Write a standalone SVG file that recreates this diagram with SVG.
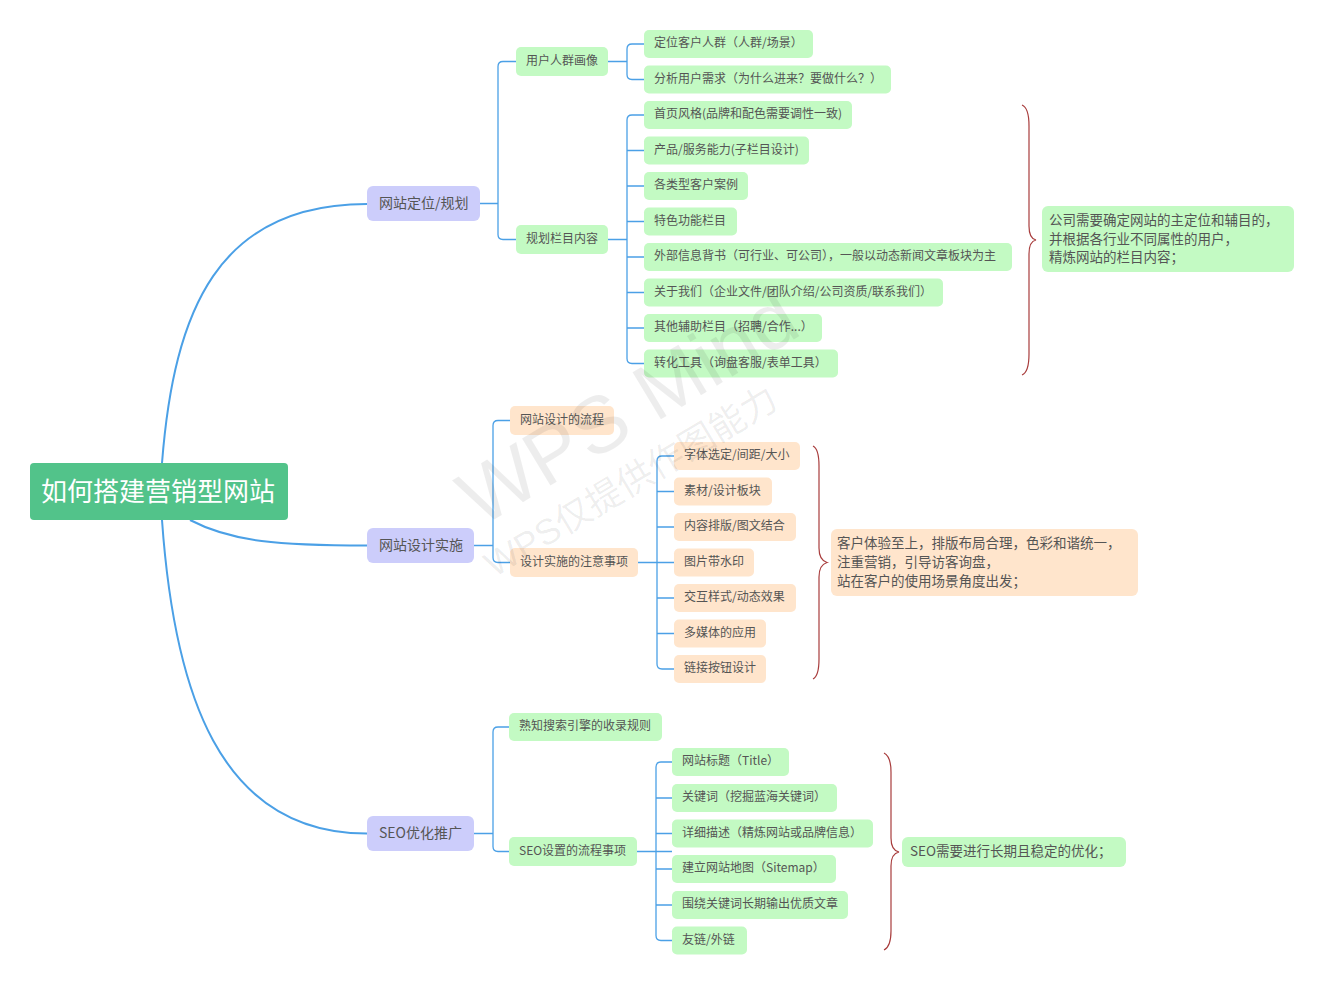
<svg xmlns="http://www.w3.org/2000/svg" width="1324" height="984" viewBox="0 0 1324 984">
<style>
text{font-family:"Noto Sans CJK SC","Noto Sans",sans-serif;fill:#555}
.root rect{fill:#52c38a}
.root text{fill:#fff;font-size:26px}
.l1 rect{fill:#cccdfb}
.l1 text{font-size:14px}
.g rect{fill:#c3fac3}
.o rect{fill:#ffe5cc}
.s text{font-size:12px}
.n text{font-size:13.5px}
.conn path{fill:none;stroke:#4ba0e6;stroke-width:1.3}
.conn path.main{stroke-width:2}
.brace path{fill:none;stroke:#a83c3c;stroke-width:1.2}
.wm{fill:#000;fill-opacity:0.07;font-family:"Liberation Sans","Noto Sans CJK SC",sans-serif}
</style>
<rect width="1324" height="984" fill="#fff"/>
<g id="connectors" class="conn">
<path class="main" d="M162,463 C174,310 218,204 367,204"/>
<path class="main" d="M190,520 C232,542 280,545.5 367,545.5"/>
<path class="main" d="M162,520 C174,690 218,833.5 367,833.5"/>
<path d="M480,203.5 H498 M516,61.5 H503 Q498,61.5 498,66.5 V234.5 Q498,239.5 503,239.5 H516"/>
<path d="M608,61.5 H627 M644,44 H632 Q627,44 627,49 V74.5 Q627,79.5 632,79.5 H644"/>
<path d="M608,239.5 H627 M644,115 H632 Q627,115 627,120 V358.5 Q627,363.5 632,363.5 H644 M627,150.5 H644 M627,186 H644 M627,221.5 H644 M627,257 H644 M627,292.5 H644 M627,328 H644"/>
<path d="M474,545.5 H493 M510,420.5 H498 Q493,420.5 493,425.5 V557.5 Q493,562.5 498,562.5 H510"/>
<path d="M638,562.5 H674 M674,456 H662 Q657,456 657,461 V664 Q657,669 662,669 H674 M657,491.5 H674 M657,527 H674 M657,598 H674 M657,633.5 H674"/>
<path d="M474,833.5 H493 M509,727 H498 Q493,727 493,732 V846.5 Q493,851.5 498,851.5 H509"/>
<path d="M637,851.5 H672 M672,762 H661 Q656,762 656,767 V935.5 Q656,940.5 661,940.5 H672 M656,798 H672 M656,833.5 H672 M656,869 H672 M656,905 H672"/>
</g>
<g id="braces" class="brace">
<path d="M1022,105 C1027,107 1029,114 1029,126 L1029,226 C1029,235 1031,239 1036,240 C1031,241 1029,245 1029,254 L1029,354 C1029,366 1027,373 1022,375"/>
<path d="M813,446 C817,448 819,455 819,466 L819,548 C819,557 822,561 827,562.5 C822,564 819,568 819,577 L819,659 C819,670 817,677 813,679"/>
<path d="M884,753 C888,755 891,762 891,772 L891,838 C891,847 894,851 899,852 C894,853 891,857 891,866 L891,931 C891,941 888,948 884,950"/>
</g>
<g id="root" class="root"><rect x="30" y="463" width="258" height="57" rx="4"/><text x="41" y="501">如何搭建营销型网站</text></g>
<g id="n1" class="l1"><rect x="367" y="186" width="113" height="35" rx="6"/><text x="379" y="208">网站定位/规划</text></g>
<g id="n2" class="l1"><rect x="367" y="528" width="107" height="35" rx="6"/><text x="379" y="550">网站设计实施</text></g>
<g id="n3" class="l1"><rect x="367" y="816" width="107" height="35" rx="6"/><text x="379" y="838">SEO优化推广</text></g>
<g id="n1a" class="g s"><rect x="516" y="47" width="92" height="29" rx="5"/><text x="526" y="64.8">用户人群画像</text></g>
<g id="n1b" class="g s"><rect x="516" y="225" width="92" height="29" rx="5"/><text x="526" y="242.8">规划栏目内容</text></g>
<g id="n1a1" class="g s"><rect x="644" y="30" width="169" height="28" rx="5"/><text x="654" y="47.3">定位客户人群（人群/场景）</text></g>
<g id="n1a2" class="g s"><rect x="644" y="65.5" width="247" height="28" rx="5"/><text x="654" y="82.8">分析用户需求（为什么进来？要做什么？）</text></g>
<g id="n1b1" class="g s"><rect x="644" y="101" width="208" height="28" rx="5"/><text x="654" y="118.3">首页风格(品牌和配色需要调性一致)</text></g>
<g id="n1b2" class="g s"><rect x="644" y="136.5" width="165" height="28" rx="5"/><text x="654" y="153.8">产品/服务能力(子栏目设计)</text></g>
<g id="n1b3" class="g s"><rect x="644" y="172" width="104" height="28" rx="5"/><text x="654" y="189.3">各类型客户案例</text></g>
<g id="n1b4" class="g s"><rect x="644" y="207.5" width="93" height="28" rx="5"/><text x="654" y="224.8">特色功能栏目</text></g>
<g id="n1b5" class="g s"><rect x="644" y="243" width="368" height="28" rx="5"/><text x="654" y="260.3">外部信息背书（可行业、可公司），一般以动态新闻文章板块为主</text></g>
<g id="n1b6" class="g s"><rect x="644" y="278.5" width="299" height="28" rx="5"/><text x="654" y="295.8">关于我们（企业文件/团队介绍/公司资质/联系我们）</text></g>
<g id="n1b7" class="g s"><rect x="644" y="314" width="178" height="28" rx="5"/><text x="654" y="331.3">其他辅助栏目（招聘/合作...）</text></g>
<g id="n1b8" class="g s"><rect x="644" y="349.5" width="194" height="28" rx="5"/><text x="654" y="366.8">转化工具（询盘客服/表单工具）</text></g>
<g id="note1" class="g n"><rect x="1042" y="206" width="252" height="66" rx="6"/><text x="1049" y="224.8">公司需要确定网站的主定位和辅目的，</text><text x="1049" y="243.8">并根据各行业不同属性的用户，</text><text x="1049" y="261.8">精炼网站的栏目内容；</text></g>
<g id="n2a" class="o s"><rect x="510" y="406" width="104" height="29" rx="5"/><text x="520" y="423.8">网站设计的流程</text></g>
<g id="n2b" class="o s"><rect x="510" y="548" width="128" height="29" rx="5"/><text x="520" y="565.8">设计实施的注意事项</text></g>
<g id="n2b1" class="o s"><rect x="674" y="442" width="126" height="28" rx="5"/><text x="684" y="459.3">字体选定/间距/大小</text></g>
<g id="n2b2" class="o s"><rect x="674" y="477.5" width="98" height="28" rx="5"/><text x="684" y="494.8">素材/设计板块</text></g>
<g id="n2b3" class="o s"><rect x="674" y="513" width="122" height="28" rx="5"/><text x="684" y="530.3">内容排版/图文结合</text></g>
<g id="n2b4" class="o s"><rect x="674" y="548.5" width="80" height="28" rx="5"/><text x="684" y="565.8">图片带水印</text></g>
<g id="n2b5" class="o s"><rect x="674" y="584" width="122" height="28" rx="5"/><text x="684" y="601.3">交互样式/动态效果</text></g>
<g id="n2b6" class="o s"><rect x="674" y="619.5" width="92" height="28" rx="5"/><text x="684" y="636.8">多媒体的应用</text></g>
<g id="n2b7" class="o s"><rect x="674" y="655" width="92" height="28" rx="5"/><text x="684" y="672.3">链接按钮设计</text></g>
<g id="note2" class="o n"><rect x="831" y="529" width="307" height="67" rx="6"/><text x="837" y="547.8">客户体验至上，排版布局合理，色彩和谐统一，</text><text x="837" y="566.8">注重营销，引导访客询盘，</text><text x="837" y="585.8">站在客户的使用场景角度出发；</text></g>
<g id="n3a" class="g s"><rect x="509" y="713" width="153" height="28" rx="5"/><text x="519" y="730.3">熟知搜索引擎的收录规则</text></g>
<g id="n3b" class="g s"><rect x="509" y="837" width="128" height="29" rx="5"/><text x="519" y="854.8">SEO设置的流程事项</text></g>
<g id="n3b1" class="g s"><rect x="672" y="748" width="117" height="28" rx="5"/><text x="682" y="765.3">网站标题（Title）</text></g>
<g id="n3b2" class="g s"><rect x="672" y="784" width="165" height="28" rx="5"/><text x="682" y="801.3">关键词（挖掘蓝海关键词）</text></g>
<g id="n3b3" class="g s"><rect x="672" y="819.5" width="201" height="28" rx="5"/><text x="682" y="836.8">详细描述（精炼网站或品牌信息）</text></g>
<g id="n3b4" class="g s"><rect x="672" y="855" width="164" height="28" rx="5"/><text x="682" y="872.3">建立网站地图（Sitemap）</text></g>
<g id="n3b5" class="g s"><rect x="672" y="891" width="176" height="28" rx="5"/><text x="682" y="908.3">围绕关键词长期输出优质文章</text></g>
<g id="n3b6" class="g s"><rect x="672" y="926.5" width="75" height="28" rx="5"/><text x="682" y="943.8">友链/外链</text></g>
<g id="note3" class="g n"><rect x="902" y="837" width="224" height="30" rx="6"/><text x="910" y="855.8">SEO需要进行长期且稳定的优化；</text></g>
<g id="watermark">
<text class="wm" x="480" y="528" font-size="80" transform="rotate(-31 480 528)">WPS Mind</text>
<text class="wm" x="494" y="578" font-size="36" transform="rotate(-31 494 578)">WPS仅提供作图能力</text>
</g>
</svg>
